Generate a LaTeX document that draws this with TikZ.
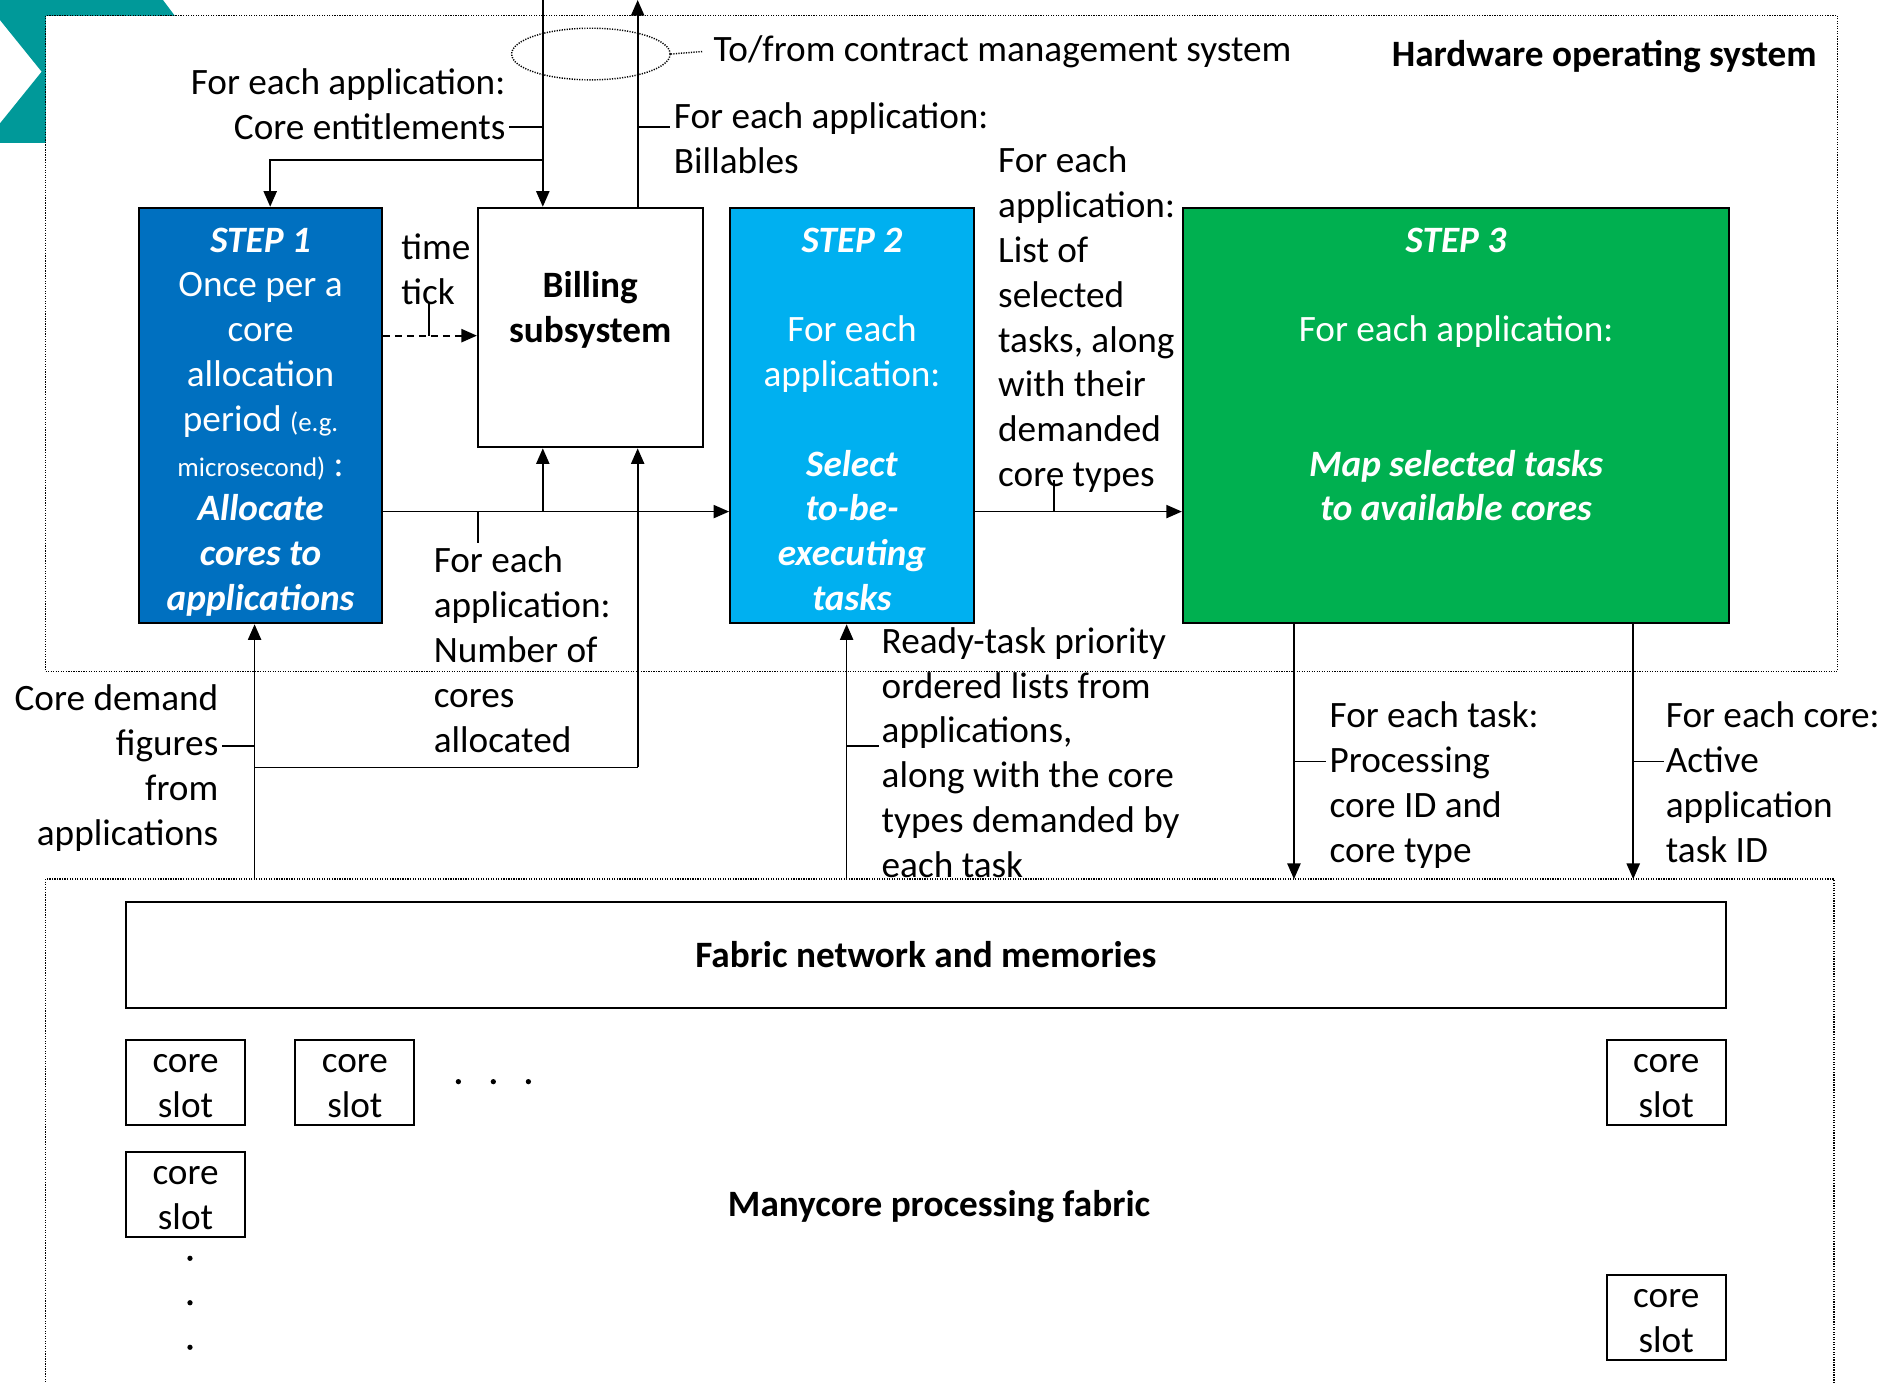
\documentclass[tikz,border=0pt]{standalone}
\usepackage{fontspec}
\setmainfont{Carlito}
\usetikzlibrary{arrows.meta,shapes.geometric}

\definecolor{tealmark}{RGB}{0,153,153}
\definecolor{stepone}{RGB}{0,112,192}
\definecolor{steptwo}{RGB}{0,176,240}
\definecolor{stepthree}{RGB}{0,176,80}

% multi-line text blocks whose baseline is the first line
\newcommand\TxtL[1]{\begin{tabular}[t]{@{}l@{}}#1\end{tabular}}
\newcommand\TxtR[1]{\begin{tabular}[t]{@{}r@{}}#1\end{tabular}}
\newcommand\TxtC[1]{\begin{tabular}[t]{@{}c@{}}#1\end{tabular}}
\newcommand\smalltxt{\fontsize{22.4}{26}\selectfont}

\tikzset{
  conn/.style={line width=1.4pt},
  arr/.style={conn, -{Triangle[length=13pt,width=11pt]}},
  blk/.style={draw, line width=1.7pt, inner sep=0pt},
  dotline/.style={line width=1.2pt, dash pattern=on 1pt off 1.1pt},
  txt/.style={inner sep=0pt, font=\fontsize{31}{37.3}\selectfont},
  wtxt/.style={txt, text=white},
  slotbox/.style={blk, minimum width=99pt, minimum height=71pt},
  dotmark/.style={fill=black, circle, inner sep=0pt, minimum size=4.4pt},
}

\begin{document}
\begin{tikzpicture}[x=1pt,y=-1pt]
\useasboundingbox (0,0) rectangle (1568,1151);
\clip (0,0) rectangle (1568,1151);

% corner chevron
\fill[tealmark] (0,0) -- (135.7,0) -- (180.7,60) -- (136.6,119) -- (0,119)
  -- (0,102.7) -- (34.7,59.7) -- (0,16.7) -- cycle;

% hardware operating system frame
\node[draw, dotline, fill=white, inner sep=0pt, minimum width=1492pt, minimum height=546pt] (hos) at (784,286) {};
% manycore processing fabric frame
\node[draw, dotline, inner sep=0pt, minimum width=1489pt, minimum height=468pt] (mpf) at (782.5,966) {};

% main blocks
\node[blk, fill=stepone, minimum width=202pt, minimum height=346pt] (step1) at (217,346) {};
\node[blk, fill=white, minimum width=187pt, minimum height=199.5pt] (bill) at (491.5,272.75) {};
\node[blk, fill=steptwo, minimum width=203pt, minimum height=346pt] (step2) at (709.5,346) {};
\node[blk, fill=stepthree, minimum width=455pt, minimum height=346pt] (step3) at (1212.5,346) {};

% block texts
\node[wtxt, anchor=base] (step1t) at (217,210) {\TxtC{\textbf{\textit{STEP 1}}\\
  Once per a\\ core\\ allocation\\ period {\smalltxt(e.g.}\\ {\smalltxt microsecond)} :\\
  \textbf{\textit{Allocate}}\\ \textbf{\textit{cores to}}\\ \textbf{\textit{applications}}}};
\node[txt, anchor=base] (billt) at (491.5,248) {\TxtC{\textbf{Billing}\\ \textbf{subsystem}}};
\node[wtxt, anchor=base] (step2t) at (709.5,210) {\TxtC{\textbf{\textit{STEP 2}}\\ \\
  For each\\ application:\\ \\ \textbf{\textit{Select}}\\ \textbf{\textit{to-be-}}\\
  \textbf{\textit{executing}}\\ \textbf{\textit{tasks}}}};
\node[wtxt, anchor=base] (step3t) at (1212.5,210) {\TxtC{\textbf{\textit{STEP 3}}\\ \\
  For each application:\\ \\ \\ \textbf{\textit{Map selected tasks}}\\
  \textbf{\textit{to available cores}}}};

% contract management link
\node[draw, dotline, ellipse, inner sep=0pt, minimum width=132pt, minimum height=43pt] (ell) at (492,45) {};
\node[txt, anchor=base west] (tofrom) at (594,51) {To/from contract management system};
\draw[dotline] (ell.east) -- ([xshift=-9pt]tofrom.west);
\node[txt, anchor=base east] (hostitle) at (1513,55) {\textbf{Hardware operating system}};

% coordinates of free ends and junctions
\coordinate (topA) at (452,0);
\coordinate (topB) at (531,0);
\coordinate (ceJ) at (452,133);
\coordinate (tickY) at (0,279.5);
\coordinate (mainY) at (0,426);
\coordinate (billUpJ) at (452,426);
\coordinate (cdB) at (212,732);
\coordinate (cdJ) at (212,639);
\coordinate (cdR) at (531,639);
\coordinate (rdB) at (705,732);
\coordinate (ptB) at (1077.5,732);
\coordinate (acB) at (1360,732);

% entitlements in, billables out
\draw[arr] (topA) -- (topA |- bill.north);
\draw[arr] (topB |- bill.north) -- (topB);
\draw[arr] (ceJ) -| ([xshift=8pt]step1.north);
\node[txt, anchor=base east] (cet) at (421,79) {\TxtR{For each application:\\ Core entitlements}};
\draw[conn] (424,105.5) -- (452,105.5);
\node[txt, anchor=base west] (billt2) at (561,107) {\TxtL{For each application:\\ Billables}};
\draw[conn] (531,105.5) -- (558,105.5);

% time tick
\draw[arr, line width=1.6pt, dash pattern=on 6pt off 4pt] (step1.east |- tickY) -- (bill.west |- tickY);
\node[txt, anchor=base west] (tickt) at (334,216) {\TxtL{time\\ tick}};
\draw[conn] (357.5,279.5) -- (357.5,252.4);

% step 1 -> step 2 -> step 3, and cores allocated to billing
\draw[arr] (step1.east |- mainY) -- (step2.west |- mainY);
\draw[arr] (billUpJ) -- (billUpJ |- bill.south);
\draw[conn] (398,426) -- (398,452);
\node[txt, anchor=base west] (numt) at (361,477) {\TxtL{For each\\ application:\\ Number of\\ cores\\ allocated}};
\draw[arr] (step2.east |- mainY) -- (step3.west |- mainY);
\draw[conn] (877.4,426) -- (877.4,400);
\node[txt, anchor=base west] (listt) at (831,144) {\TxtL{For each\\ application:\\ List of\\ selected\\ tasks, along\\ with their\\ demanded\\ core types}};

% core demand figures
\draw[arr] (cdB) -- (cdB |- step1.south);
\draw[conn] (cdJ) -- (cdR);
\draw[arr] (cdR) -- (cdR |- bill.south);
\draw[conn] (185,621) -- (212,621);
\node[txt, anchor=base east] (cdt) at (182,592) {\TxtR{Core demand\\ figures\\ from\\ applications}};

% ready-task lists
\draw[arr] (rdB) -- (rdB |- step2.south);
\draw[conn] (705,621) -- (732,621);
\node[txt, anchor=base west] (rdt) at (734,544) {\TxtL{Ready-task priority\\ ordered lists from\\ applications,\\ along with the core\\ types demanded by\\ each task}};

% step 3 outputs
\draw[arr] (ptB |- step3.south) -- (ptB);
\draw[conn] (1077.5,634) -- (1104,634);
\node[txt, anchor=base west] (ptt) at (1107,606) {\TxtL{For each task:\\ Processing\\ core ID and\\ core type}};
\draw[arr] (acB |- step3.south) -- (acB);
\draw[conn] (1360,634) -- (1386,634);
\node[txt, anchor=base west] (act) at (1387,606) {\TxtL{For each core:\\ Active\\ application\\ task ID}};

% fabric
\node[blk, minimum width=1332pt, minimum height=88pt] (net) at (771,795) {};
\node[txt, anchor=base] (nett) at (771,806) {\textbf{Fabric network and memories}};
\node[txt, anchor=base] (mpft) at (782,1013) {\textbf{Manycore processing fabric}};

\node[slotbox] (s1) at (154.5,901.5) {};
\node[slotbox] (s2) at (295.5,901.5) {};
\node[slotbox] (s3) at (1387.5,901.5) {};
\node[slotbox] (s4) at (154.5,994.5) {};
\node[slotbox] (s5) at (1387.5,1097) {};
\node[txt, anchor=base] (s1t) at ([yshift=-28pt]s1.north) {\TxtC{core\\ slot}};
\node[txt, anchor=base] (s2t) at ([yshift=-28pt]s2.north) {\TxtC{core\\ slot}};
\node[txt, anchor=base] (s3t) at ([yshift=-28pt]s3.north) {\TxtC{core\\ slot}};
\node[txt, anchor=base] (s4t) at ([yshift=-28pt]s4.north) {\TxtC{core\\ slot}};
\node[txt, anchor=base] (s5t) at ([yshift=-28pt]s5.north) {\TxtC{core\\ slot}};

\node[dotmark] (h1) at (381.7,900.7) {};
\node[dotmark] (h2) at (410.8,900.7) {};
\node[dotmark] (h3) at (440,900.7) {};
\node[dotmark] (v1) at (158.2,1047.8) {};
\node[dotmark] (v2) at (158.2,1084.8) {};
\node[dotmark] (v3) at (158.2,1121.9) {};
\end{tikzpicture}
\end{document}
